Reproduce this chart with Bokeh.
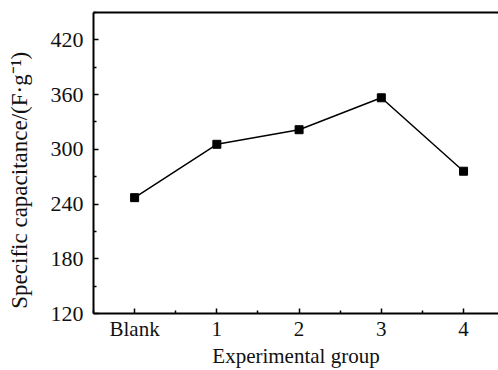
from bokeh.plotting import figure
from bokeh.models import FixedTicker, LinearAxis, Range1d
from bokeh.embed import file_html
from bokeh.resources import INLINE

groups = ["Blank", "1", "2", "3", "4"]
capacitance = [247, 305.5, 321.5, 356.5, 276]
y_ticks = [120, 180, 240, 300, 360, 420]

xs = list(range(len(groups)))

p = figure(width=498, height=370, output_backend="svg", toolbar_location=None,
           x_range=Range1d(-0.5, 4.425), y_range=Range1d(120, 450),
           min_border_left=93, min_border_right=0, min_border_top=12, min_border_bottom=56)
p.background_fill_color = "white"
p.border_fill_color = "white"
p.outline_line_color = None
p.grid.visible = False

p.line(xs, capacitance, line_color="black", line_width=1.5)
p.scatter(xs, capacitance, marker="square", size=8, fill_color="black", line_color="black")

font = "Liberation Serif"

xa = p.xaxis[0]
xa.ticker = FixedTicker(ticks=xs, minor_ticks=[x + 0.5 for x in xs[:-1]] + [-0.5])
xa.major_label_overrides = {i: g for i, g in enumerate(groups)}
xa.axis_label = "Experimental group"

ya = p.yaxis[0]
ya.ticker = FixedTicker(ticks=y_ticks, minor_ticks=[y + 30 for y in y_ticks])
ya.axis_label = "Specific capacitance/(F·g⁻¹)" + "\u00a0" * 6

for ax in (xa, ya):
    ax.axis_line_width = 2
    ax.axis_line_color = "black"
    ax.major_tick_in = 5
    ax.major_tick_out = 0
    ax.minor_tick_in = 3
    ax.minor_tick_out = 0
    ax.major_tick_line_width = 1.5
    ax.minor_tick_line_width = 1.5
    ax.major_tick_line_color = "black"
    ax.minor_tick_line_color = "black"
    ax.major_label_text_font = font
    ax.major_label_text_font_size = "22px"
    ax.major_label_text_color = "#111111"
    ax.axis_label_text_font = font
    ax.axis_label_text_font_size = "22px"
    ax.axis_label_text_font_style = "normal"
    ax.axis_label_text_color = "#111111"

ya.axis_label_text_font_size = "23px"
xa.major_label_text_font_size = "21px"
xa.axis_label_text_font_size = "21px"
xa.major_label_standoff = 3
xa.axis_label_standoff = 0
ya.major_label_standoff = 10
ya.axis_label_standoff = 16

top = LinearAxis(ticker=FixedTicker(ticks=[]), axis_line_width=2, axis_line_color="black",
                 major_tick_in=0, major_tick_out=0, minor_tick_in=0, minor_tick_out=0,
                 major_label_text_font_size="0px")
p.add_layout(top, "above")

open("out.html", "w").write(file_html(p, INLINE))
